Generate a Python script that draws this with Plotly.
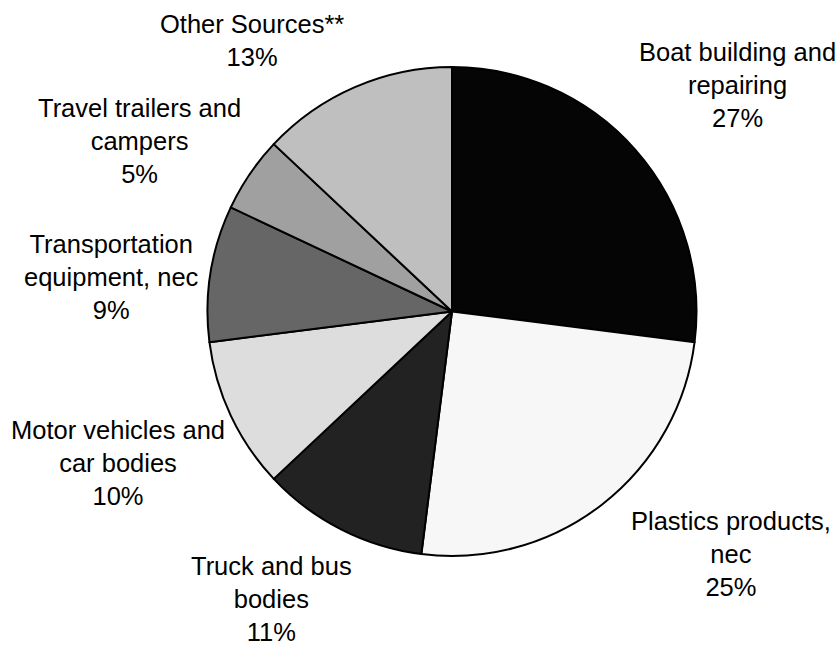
import plotly.graph_objects as go

# ---- data ----
categories = [
    "Boat building and repairing",
    "Plastics products, nec",
    "Truck and bus bodies",
    "Motor vehicles and car bodies",
    "Transportation equipment, nec",
    "Travel trailers and campers",
    "Other Sources**",
]
shares = [27, 25, 11, 10, 9, 5, 13]

# label text line breaks (display only)
label_lines = [
    ["Boat building and", "repairing"],
    ["Plastics products,", "nec"],
    ["Truck and bus", "bodies"],
    ["Motor vehicles and", "car bodies"],
    ["Transportation", "equipment, nec"],
    ["Travel trailers and", "campers"],
    ["Other Sources**"],
]

# ---- style / layout ----
W, H = 840, 645
slice_colors = ["#050505", "#f7f7f7", "#222222", "#dddddd", "#666666", "#a0a0a0", "#bfbfbf"]
# label block centres in pixels (layout only)
label_px = [(737, 85), (731, 554), (271, 599), (118, 463), (111, 277), (139, 141), (252, 41)]

cx, cy, R = 452, 311.5, 244.5

fig = go.Figure(
    go.Pie(
        labels=categories,
        values=shares,
        sort=False,
        direction="clockwise",
        rotation=0,
        textinfo="none",
        hoverinfo="label+percent",
        marker=dict(colors=slice_colors, line=dict(color="#000000", width=2)),
        domain=dict(
            x=[(cx - R) / W, (cx + R) / W],
            y=[(H - cy - R) / H, (H - cy + R) / H],
        ),
        showlegend=False,
    )
)

annotations = []
for lines, v, (px, py) in zip(label_lines, shares, label_px):
    annotations.append(
        dict(
            x=px / W,
            y=1 - py / H,
            xref="paper",
            yref="paper",
            xanchor="center",
            yanchor="middle",
            align="center",
            showarrow=False,
            text="<br>".join(lines + [f"{v}%"]),
            font=dict(family="Liberation Sans, Arial, sans-serif", size=25.5, color="#000000"),
        )
    )

fig.update_layout(
    width=W,
    height=H,
    margin=dict(l=0, r=0, t=0, b=0),
    paper_bgcolor="white",
    plot_bgcolor="white",
    annotations=annotations,
)

fig.write_html(
    "out.html",
    config={"displayModeBar": False},
    post_script="document.body.style.margin='0';document.body.style.padding='0';",
)
